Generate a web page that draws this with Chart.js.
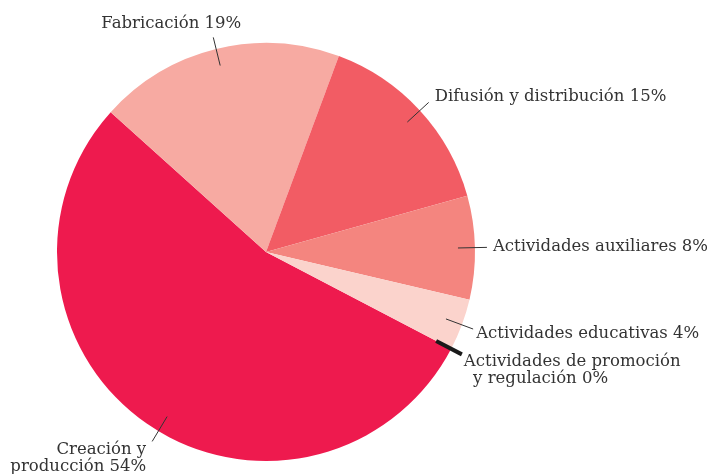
<!DOCTYPE html>
<html>
<head>
<meta charset="utf-8">
<script src="https://cdn.jsdelivr.net/npm/chart.js@4/dist/chart.umd.min.js"></script>
<style>
  html, body { margin: 0; padding: 0; background: #fff; }
  #wrap { width: 715px; height: 474px; position: relative; }
</style>
</head>
<body>
<div id="wrap"><canvas id="pie"></canvas></div>
<script>
// datos del gráfico
const categorias = [
  ['Creación y', 'producción 54%'],
  ['Fabricación 19%'],
  ['Difusión y distribución 15%'],
  ['Actividades auxiliares 8%'],
  ['Actividades educativas 4%'],
  ['Actividades de promoción', ' y regulación 0%']
];
const porcentajes = [54, 19, 15, 8, 4, 0];
const colores = ['#ee1a4e', '#f7aaa2', '#f25c64', '#f4857f', '#fbd3cc', '#1a1a1a'];

// posición del texto respecto al extremo exterior de cada guía
const etiquetas = [
  { align: 'right', dx: -6, dy: 13, lh: 17, giro: -3.8 },
  { align: 'center', dx: -42, dy: -9, lh: 17, giro: 0 },
  { align: 'left', dx: 6, dy: -1, lh: 17, giro: 0 },
  { align: 'left', dx: 6, dy: 4, lh: 17, giro: 0 },
  { align: 'left', dx: 3, dy: 9, lh: 17, giro: 0 },
  { align: 'left', dx: 2, dy: 12, lh: 17, giro: 0 }
];

const guias = {
  id: 'guias',
  afterDatasetsDraw(chart) {
    const ctx = chart.ctx;
    const arcs = chart.getDatasetMeta(0).data;
    ctx.save();
    ctx.font = '16.5px "DejaVu Serif", serif';
    ctx.fillStyle = '#333';
    ctx.textBaseline = 'alphabetic';
    arcs.forEach((arc, i) => {
      const { x, y, startAngle, endAngle, outerRadius } = arc.getProps(['x', 'y', 'startAngle', 'endAngle', 'outerRadius'], true);
      const e = etiquetas[i];
      const a = (startAngle + endAngle) / 2 + e.giro * Math.PI / 180;
      const r1 = outerRadius - 17, r2 = outerRadius + 12;
      const x1 = x + r1 * Math.cos(a), y1 = y + r1 * Math.sin(a);
      const x2 = x + r2 * Math.cos(a), y2 = y + r2 * Math.sin(a);
      ctx.beginPath();
      ctx.moveTo(x1, y1);
      ctx.lineTo(x2, y2);
      if (porcentajes[i] === 0) {
        ctx.strokeStyle = '#1a1a1a';
        ctx.lineWidth = 4;
      } else {
        ctx.strokeStyle = '#333';
        ctx.lineWidth = 1;
      }
      ctx.stroke();
      ctx.textAlign = e.align;
      categorias[i].forEach((linea, k) => {
        ctx.fillText(linea, x2 + e.dx + (k && e.align === 'left' ? 4 : 0), y2 + e.dy + k * e.lh);
      });
    });
    ctx.restore();
  }
};

new Chart(document.getElementById('pie').getContext('2d'), {
  type: 'pie',
  data: {
    labels: categorias.map(c => c.join(' ')),
    datasets: [{
      data: porcentajes,
      backgroundColor: colores,
      borderWidth: 0
    }]
  },
  options: {
    responsive: true,
    maintainAspectRatio: false,
    animation: false,
    rotation: 117.6,
    layout: {
      padding: { left: 57, right: 240, top: 43, bottom: 13 }
    },
    plugins: {
      legend: { display: false },
      tooltip: { enabled: false }
    }
  },
  plugins: [guias]
});
</script>
</body>
</html>
